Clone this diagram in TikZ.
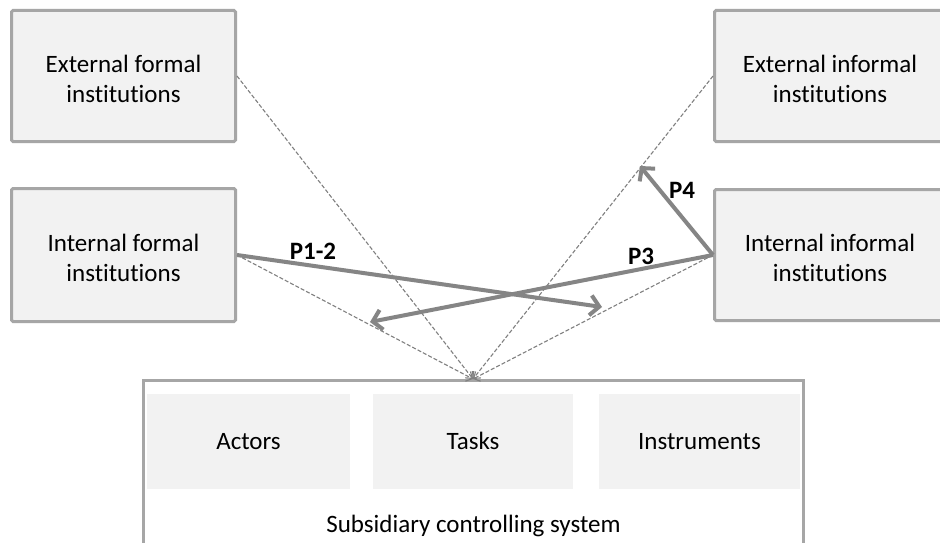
\documentclass[tikz,border=0pt]{standalone}
\usepackage{fontspec}
\setmainfont{Carlito}[Ligatures=NoCommon]
\usetikzlibrary{arrows.meta}
\definecolor{boxfill}{HTML}{F2F2F2}
\definecolor{boxline}{HTML}{A6A6A6}
\definecolor{arrowgray}{HTML}{858585}
\definecolor{dashgray}{HTML}{808080}
\newcommand{\topstrut}{\rule{0pt}{23pt}}
\begin{document}
\begin{tikzpicture}[x=1pt,y=-1pt,
  inst/.style={draw=boxline,line width=3pt,fill=boxfill,rounded corners=1.5pt,
    align=center,inner sep=0pt,font=\fontsize{25pt}{30pt}\selectfont},
  part/.style={fill=boxfill,inner sep=0pt,text height=16pt,text depth=0pt,
    font=\fontsize{25pt}{30pt}\selectfont},
  plabel/.style={font=\fontsize{25pt}{30pt}\selectfont\bfseries,inner sep=0pt},
  solidarrow/.style={draw=arrowgray,line width=4pt,-{Straight Barb[length=9pt,width=20pt]}},
  dasharrow/.style={draw=dashgray,line width=1.1pt,dash pattern=on 4pt off 2pt,
    -{Straight Barb[length=5pt,width=11pt]}}]
\clip (0,0) rectangle (940,543);
\fill[white] (0,0) rectangle (940,543);
% institution boxes
\node[inst,minimum width=224pt,minimum height=131pt] (ef) at (123.5,76) {\topstrut External formal\\institutions};
\node[inst,minimum width=231pt,minimum height=131pt] (ei) at (830,76) {\topstrut External informal\\institutions};
\node[inst,minimum width=224pt,minimum height=133pt] (inf) at (123.5,255) {\topstrut Internal formal\\institutions};
\node[inst,minimum width=231pt,minimum height=131pt] (ii) at (830,255) {\topstrut Internal informal\\institutions};
% subsidiary controlling system
\node[draw=boxline,line width=3pt,fill=white,minimum width=660pt,minimum height=220pt,inner sep=0pt] (sys) at (473.5,490.5) {};
\node[part,minimum width=203pt,minimum height=95pt] (actors) at (248.5,441.5) {Actors};
\node[part,minimum width=200pt,minimum height=95pt] (tasks) at (473,441.5) {Tasks};
\node[part,minimum width=201pt,minimum height=95pt] (instr) at (699.5,441.5) {Instruments};
\node[font=\fontsize{25pt}{30pt}\selectfont,inner sep=0pt,anchor=base] (syslabel) at (473.5,532) {Subsidiary controlling system};
% convergence point
\coordinate (conv) at (473,379);
\draw[dasharrow] (ef.east) -- (conv);
\draw[dasharrow] (ei.west) -- (conv);
\draw[dasharrow] (inf.east) -- (conv);
\draw[dasharrow] (ii.west) -- (conv);
% propositions
\coordinate (p12end) at (602,307);
\coordinate (p3end) at (370,322);
\coordinate (p4end) at (640,166);
\draw[solidarrow] (inf.east) -- (p12end);
\draw[solidarrow] (ii.west) -- (p3end);
\draw[solidarrow] (ii.west) -- (p4end);
\node[plabel] (l12) at (313,251) {P1-2};
\node[plabel] (l3) at (641,256) {P3};
\node[plabel] (l4) at (682,190) {P4};
\end{tikzpicture}
\end{document}
